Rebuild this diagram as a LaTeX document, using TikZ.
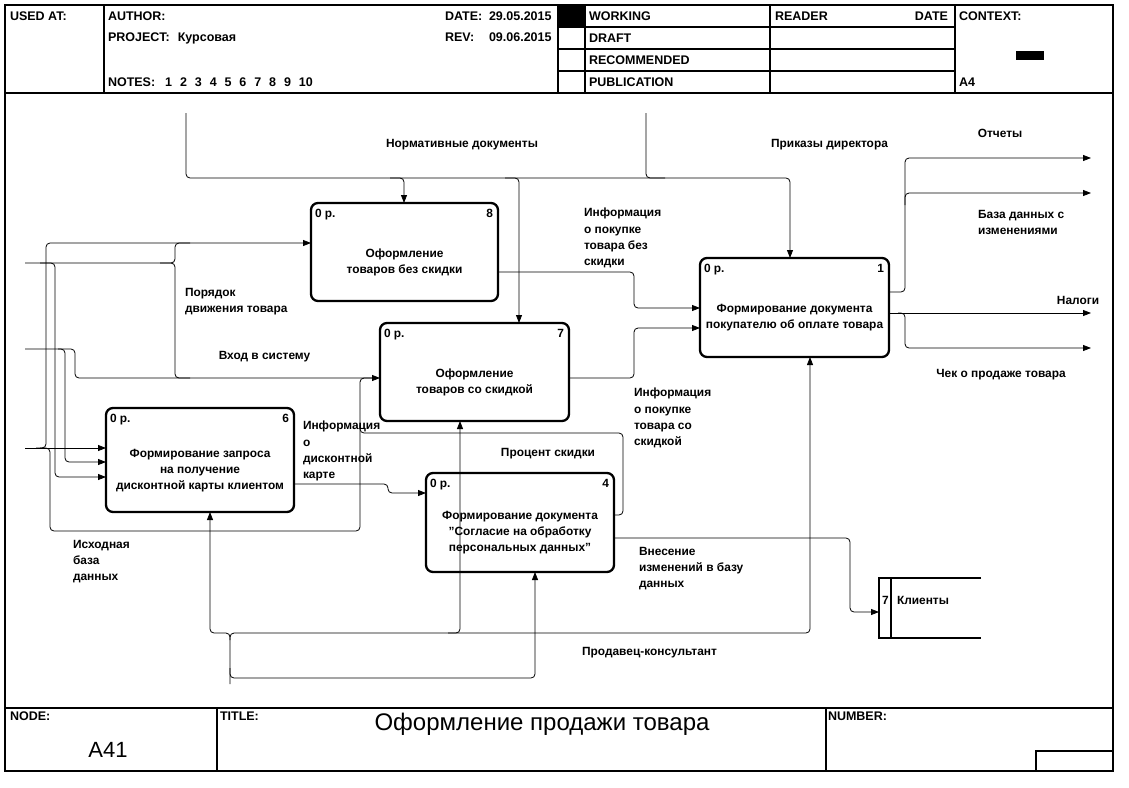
\documentclass[tikz,border=0pt]{standalone}
\usepackage{fontspec}
\setmainfont{Liberation Sans}
\usetikzlibrary{arrows.meta}
\begin{document}
\begin{tikzpicture}[x=1pt,y=-1pt,
  every node/.style={inner sep=0pt, outer sep=0pt},
  frm/.style={line width=1.2pt},
  proc/.style={draw, line width=2.3pt, rounded corners=7pt},
  ln/.style={draw, line width=0.8pt, rounded corners=4pt},
  ar/.style={ln, -{Triangle[length=8pt,width=6pt]}},
  lbl/.style={font=\fontsize{11.9}{16.4}\selectfont\bfseries, align=left},
  hd/.style={font=\fontsize{12.5}{14}\selectfont\bfseries},
  btxt/.style={font=\fontsize{11.9}{16}\selectfont\bfseries, align=center},
  ]
\useasboundingbox (0,0) rectangle (1129,787);
\fill[white] (0,0) rectangle (1129,787);
% ---------- frame ----------
\draw[frm] (5,5) rectangle (1113,771);
\draw[frm] (5,93) -- (1113,93);
\draw[frm] (104,5) -- (104,93);
\draw[frm] (558,5) -- (558,93);
\draw[frm] (585,5) -- (585,93);
\draw[frm] (770,5) -- (770,93);
\draw[frm] (955,5) -- (955,93);
\foreach \yy in {27,49,71} \draw[frm] (558,\yy) -- (955,\yy);
\fill (558,5) rectangle (585,27);
\fill (1016,51) rectangle (1044,60);
\draw[frm] (5,708) -- (1113,708);
\draw[frm] (217,708) -- (217,771);
\draw[frm] (826,708) -- (826,771);
\draw[frm] (1036,771) |- (1113,751);
% ---------- header text ----------
\node[hd, anchor=base west] (usedat) at (10,20.5) {USED AT:};
\node[hd, anchor=base west] (author) at (108,20.5) {AUTHOR:};
\node[hd, anchor=base west] (project) at (108,41.5) {PROJECT:\hspace{8pt}Курсовая};
\node[hd, anchor=base west] (notes) at (108,86.5) {NOTES:\hspace{10pt}1\hspace{7.9pt}2\hspace{7.9pt}3\hspace{7.9pt}4\hspace{7.9pt}5\hspace{7.9pt}6\hspace{7.9pt}7\hspace{7.9pt}8\hspace{7.9pt}9\hspace{7.9pt}10};
\node[hd, anchor=base west] (date) at (445,20.5) {DATE:};
\node[hd, anchor=base west] (dateval) at (489,20.5) {29.05.2015};
\node[hd, anchor=base west] (rev) at (445,41.5) {REV:};
\node[hd, anchor=base west] (revval) at (489,41.5) {09.06.2015};
\node[hd, anchor=base west] (working) at (589,20.5) {WORKING};
\node[hd, anchor=base west] (draft) at (589,42.5) {DRAFT};
\node[hd, anchor=base west] (recom) at (589,64.5) {RECOMMENDED};
\node[hd, anchor=base west] (publ) at (589,86.5) {PUBLICATION};
\node[hd, anchor=base west] (reader) at (775,20.5) {READER};
\node[hd, anchor=base east] (rdate) at (948,20.5) {DATE};
\node[hd, anchor=base west] (context) at (959,20.5) {CONTEXT:};
\node[hd, anchor=base west] (afour) at (959,86.5) {A4};
% ---------- footer ----------
\node[hd, anchor=base west] (nodelbl) at (10,720.5) {NODE:};
\node[hd, anchor=base west] (titlelbl) at (220,720.5) {TITLE:};
\node[hd, anchor=base west] (numlbl) at (828,720.5) {NUMBER:};
\node[font=\fontsize{22}{24}\selectfont, anchor=base] (nodeval) at (108,757) {A41};
\node[font=\fontsize{24}{26}\selectfont, anchor=base] (title) at (542,730.5) {Оформление продажи товара};
% ---------- boxes ----------
\node[proc, minimum width=187pt, minimum height=98pt] (b8) at (404.5,252) {};
\node[proc, minimum width=189pt, minimum height=98pt] (b7) at (474.5,372) {};
\node[proc, minimum width=189pt, minimum height=99pt] (b1) at (794.5,307.5) {};
\node[proc, minimum width=188pt, minimum height=104pt] (b6) at (200,460) {};
\node[proc, minimum width=188pt, minimum height=99pt] (b4) at (520,522.5) {};
\node[btxt] (t8) at ([yshift=-10pt]b8.center) {Оформление\\товаров без скидки};
\node[btxt] (t7) at ([yshift=-10pt]b7.center) {Оформление\\товаров со скидкой};
\node[btxt] (t1) at ([yshift=-10pt]b1.center) {Формирование документа\\покупателю об оплате товара};
\node[btxt] (t6) at ([yshift=-11pt]b6.center) {Формирование запроса\\на получение\\дисконтной карты клиентом};
\node[btxt] (t4) at ([yshift=-10pt]b4.center) {Формирование документа\\"Согласие на обработку\\персональных данных"};
\foreach \b/\n in {b8/8,b7/7,b1/1,b6/6,b4/4}{
  \node[lbl, anchor=base west] (\b r) at ([xshift=4pt,yshift=-14pt]\b.north west) {0 р.};
  \node[lbl, anchor=base east] (\b n) at ([xshift=-5pt,yshift=-14pt]\b.north east) {\n};
}
% reference box "Клиенты"
\node[minimum width=102pt, minimum height=60pt] (cl) at (930,608) {};
\draw[line width=2pt] (cl.north east) -- (cl.north west) -- (cl.south west) -- (cl.south east);
\draw[line width=2pt] ([xshift=12pt]cl.north west) -- ([xshift=12pt]cl.south west);
\node[lbl, anchor=base west] (cln) at ([xshift=3pt,yshift=4pt]cl.west) {7};
\node[lbl, anchor=base west] (clt) at ([xshift=18pt,yshift=4pt]cl.west) {Клиенты};
% ---------- helper coordinates ----------
\coordinate (n1) at (186,113);
\coordinate (n2) at (646,113);
\coordinate (i1) at (25,263);
\coordinate (i2) at (25,349);
\coordinate (i3) at (25,448);
\coordinate (o1) at (1091,158);
\coordinate (o2) at (1091,193);
\coordinate (o3) at (1091,313);
\coordinate (o4) at (1091,348);
\coordinate (m1) at (230,684);
\coordinate (x404) at (404,0);
\coordinate (x519) at (519,0);
\coordinate (x790) at (790,0);
\coordinate (x210) at (210,0);
\coordinate (x460) at (460,0);
\coordinate (x535) at (535,0);
\coordinate (x810) at (810,0);
\foreach \yy in {243,272,292,308,313,328,378,448,462,477,484,493,515,538,612}
  \coordinate (y\yy) at (0,\yy);
% ---------- controls ----------
\draw[ar] (n1) -- (186,178) -- (790,178) -- (b1.north -| x790);
\draw[ar] (390,178) -- (404,178) -- (b8.north -| x404);
\draw[ar] (505,178) -- (519,178) -- (b7.north -| x519);
\draw[ln] (n2) -- (646,178) -- (665,178);
% ---------- inputs ----------
\draw[ln] (i1) -- (175,263) -- (175,243) -- (190,243);
\draw[ln] (160,263) -- (175,263) -- (175,378) -- (190,378);
\draw[ar] (40,263) -- (55,263) -- (55,477) -- (b6.west |- y477);
\draw[ar] (i2) -- (65,349) -- (65,462) -- (b6.west |- y462);
\draw[ar] (58,349) -- (75,349) -- (75,378) -- (b7.west |- y378);
\draw[ar] (i3) -- (b6.west |- y448);
\draw[ar] (36,448) -- (46,448) -- (46,243) -- (b8.west |- y243);
\draw[ln] (40,448) -- (50,448) -- (50,531) -- (360,531) -- (360,378) -- (372,378);
% ---------- outputs ----------
\draw[ar] (b8.east |- y272) -- (634,272) -- (634,308) -- (b1.west |- y308);
\draw[ar] (b7.east |- y378) -- (634,378) -- (634,328) -- (b1.west |- y328);
\draw[ar] (b6.east |- y484) -- (388,484) -- (388,493) -- (b4.west |- y493);
\draw[ln] (b4.east |- y515) -- (623,515) -- (623,433) -- (360,433) -- (360,425);
\draw[ar] (b4.east |- y538) -- (850,538) -- (850,612) -- (cl.west |- y612);
\draw[ar] (b1.east |- y292) -- (905,292) -- (905,158) -- (o1);
\draw[ar] (905,205) -- (905,193) -- (o2);
\draw[ar] (b1.east |- y313) -- (o3);
\draw[ar] (898,313) -- (905,313) -- (905,348) -- (o4);
% ---------- mechanisms ----------
\draw[ar] (m1) -- (230,633) -- (210,633) -- (b6.south -| x210);
\draw[ar] (230,640) -- (230,633) -- (810,633) -- (b1.south -| x810);
\draw[ar] (448,633) -- (460,633) -- (b7.south -| x460);
\draw[ar] (230,668) -- (230,678) -- (535,678) -- (b4.south -| x535);
% ---------- labels ----------
\node[lbl, anchor=base] (lnorm) at (462,147) {Нормативные документы};
\node[lbl, anchor=base] (lprik) at (829.5,147) {Приказы директора};
\node[lbl, anchor=base] (lotch) at (1000,137) {Отчеты};
\node[lbl, anchor=north west] (lbd) at (978,210) {База данных с\\изменениями};
\node[lbl, anchor=base] (lnal) at (1078,304) {Налоги};
\node[lbl, anchor=base] (lchek) at (1001,377) {Чек о продаже товара};
\node[lbl, anchor=north west] (linf1) at (584,208) {Информация\\о покупке\\товара без\\скидки};
\node[lbl, anchor=north west] (lpor) at (185,288) {Порядок\\движения товара};
\node[lbl, anchor=base] (lvhod) at (264.5,359) {Вход в систему};
\node[lbl, anchor=north west] (linf2) at (634,388) {Информация\\о покупке\\товара со\\скидкой};
\node[lbl, anchor=north west] (linf3) at (303,421) {Информация\\о\\дисконтной\\карте};
\node[lbl, anchor=base] (lproc) at (548,456) {Процент скидки};
\node[lbl, anchor=north west] (lish) at (73,540) {Исходная\\база\\данных};
\node[lbl, anchor=north west] (lvnes) at (639,547) {Внесение\\изменений в базу\\данных};
\node[lbl, anchor=base] (lprod) at (649.5,655) {Продавец-консультант};
\end{tikzpicture}
\end{document}
